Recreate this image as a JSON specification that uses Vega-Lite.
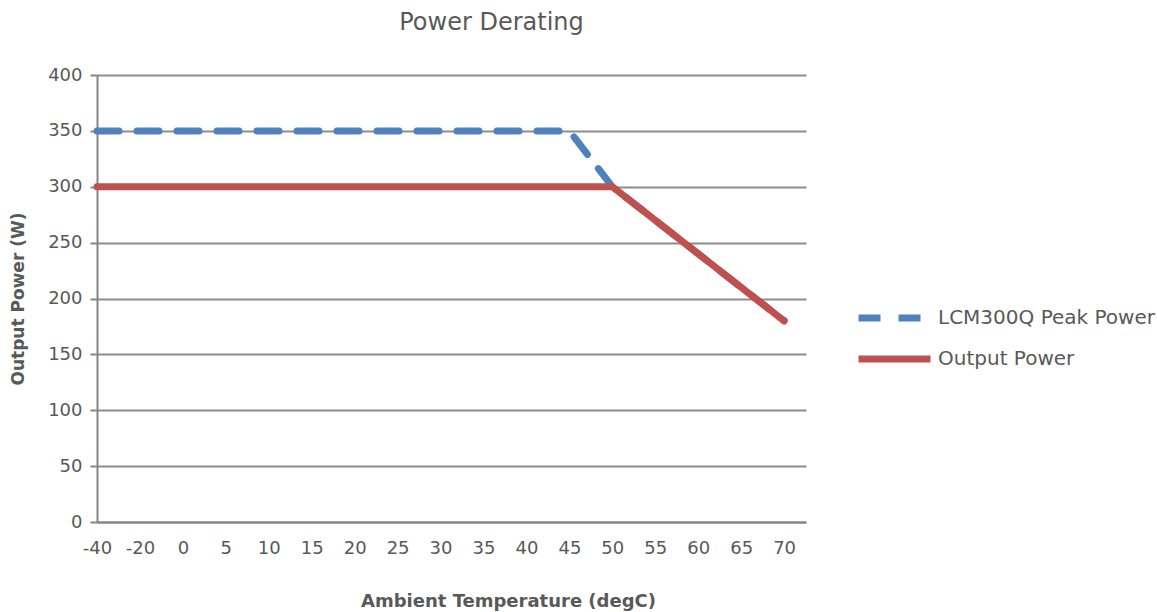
{
  "$schema": "https://vega.github.io/schema/vega-lite/v6.json",
  "width": 709,
  "height": 447,
  "autosize": {"type": "none"},
  "padding": {"left": 97, "top": 75, "right": 351, "bottom": 90},
  "background": "white",
  "config": {
    "view": {"stroke": null},
    "font": "DejaVu Sans",
    "axis": {"labelFont": "DejaVu Sans", "titleFont": "DejaVu Sans", "labelColor": "#595959", "titleColor": "#595959"}
  },
  "title": {
    "text": "Power Derating",
    "fontSize": 24,
    "fontWeight": "normal",
    "color": "#595959",
    "font": "DejaVu Sans",
    "anchor": "middle",
    "dx": 40,
    "offset": 31
  },
  "data": {
    "values": [
      {"i": 0, "t": "-40", "s": "LCM300Q Peak Power", "p": 350},
      {"i": 1, "t": "-20", "s": "LCM300Q Peak Power", "p": 350},
      {"i": 2, "t": "0", "s": "LCM300Q Peak Power", "p": 350},
      {"i": 3, "t": "5", "s": "LCM300Q Peak Power", "p": 350},
      {"i": 4, "t": "10", "s": "LCM300Q Peak Power", "p": 350},
      {"i": 5, "t": "15", "s": "LCM300Q Peak Power", "p": 350},
      {"i": 6, "t": "20", "s": "LCM300Q Peak Power", "p": 350},
      {"i": 7, "t": "25", "s": "LCM300Q Peak Power", "p": 350},
      {"i": 8, "t": "30", "s": "LCM300Q Peak Power", "p": 350},
      {"i": 9, "t": "35", "s": "LCM300Q Peak Power", "p": 350},
      {"i": 10, "t": "40", "s": "LCM300Q Peak Power", "p": 350},
      {"i": 11, "t": "45", "s": "LCM300Q Peak Power", "p": 350},
      {"i": 12, "t": "50", "s": "LCM300Q Peak Power", "p": 300},
      {"i": 13, "t": "55", "s": "LCM300Q Peak Power", "p": 270},
      {"i": 14, "t": "60", "s": "LCM300Q Peak Power", "p": 240},
      {"i": 15, "t": "65", "s": "LCM300Q Peak Power", "p": 210},
      {"i": 16, "t": "70", "s": "LCM300Q Peak Power", "p": 180},
      {"i": 0, "t": "-40", "s": "Output Power", "p": 300},
      {"i": 1, "t": "-20", "s": "Output Power", "p": 300},
      {"i": 2, "t": "0", "s": "Output Power", "p": 300},
      {"i": 3, "t": "5", "s": "Output Power", "p": 300},
      {"i": 4, "t": "10", "s": "Output Power", "p": 300},
      {"i": 5, "t": "15", "s": "Output Power", "p": 300},
      {"i": 6, "t": "20", "s": "Output Power", "p": 300},
      {"i": 7, "t": "25", "s": "Output Power", "p": 300},
      {"i": 8, "t": "30", "s": "Output Power", "p": 300},
      {"i": 9, "t": "35", "s": "Output Power", "p": 300},
      {"i": 10, "t": "40", "s": "Output Power", "p": 300},
      {"i": 11, "t": "45", "s": "Output Power", "p": 300},
      {"i": 12, "t": "50", "s": "Output Power", "p": 300},
      {"i": 13, "t": "55", "s": "Output Power", "p": 270},
      {"i": 14, "t": "60", "s": "Output Power", "p": 240},
      {"i": 15, "t": "65", "s": "Output Power", "p": 210},
      {"i": 16, "t": "70", "s": "Output Power", "p": 180}
    ]
  },
  "mark": {"type": "line", "strokeWidth": 7, "strokeCap": "round", "strokeJoin": "round"},
  "encoding": {
    "x": {
      "field": "i",
      "type": "quantitative",
      "scale": {"domain": [0, 16.51], "nice": false, "zero": false},
      "axis": {
        "values": [0,1,2,3,4,5,6,7,8,9,10,11,12,13,14,15,16],
        "labelExpr": "['-40','-20','0','5','10','15','20','25','30','35','40','45','50','55','60','65','70'][datum.value]",
        "title": "Ambient Temperature (degC)",
        "titleFontSize": 18,
        "titleFontWeight": "bold",
        "titlePadding": 35,
        "titleX": 411,
        "labelFontSize": 18,
        "labelPadding": 17,
        "ticks": false,
        "grid": false,
        "domainColor": "#868686",
        "domainWidth": 2,
        "labelFlush": false,
        "labelOverlap": false
      }
    },
    "y": {
      "field": "p",
      "type": "quantitative",
      "scale": {"domain": [0, 400], "nice": false},
      "axis": {
        "values": [0, 50, 100, 150, 200, 250, 300, 350, 400],
        "title": "Output Power (W)",
        "titleFontSize": 17,
        "titleFontWeight": "bold",
        "titlePadding": 20,
        "labelFontSize": 18,
        "labelPadding": 8,
        "tickSize": 7,
        "tickColor": "#868686",
        "tickWidth": 2,
        "domainColor": "#868686",
        "domainWidth": 2,
        "gridColor": "#8c8c8c",
        "gridWidth": 2
      }
    },
    "color": {
      "field": "s",
      "type": "nominal",
      "scale": {"domain": ["LCM300Q Peak Power", "Output Power"], "range": ["#4F81BD", "#C0504D"]},
      "legend": {
        "title": null,
        "orient": "none",
        "legendX": 758,
        "legendY": 229,
        "symbolType": "stroke",
        "symbolSize": 5184,
        "symbolStrokeWidth": 7,
        "labelFontSize": 20,
        "labelColor": "#595959",
        "labelFont": "DejaVu Sans",
        "labelOffset": 4,
        "clipHeight": 28,
        "rowPadding": 13,
        "labelLimit": 300
      }
    },
    "strokeDash": {
      "field": "s",
      "type": "nominal",
      "scale": {"domain": ["LCM300Q Peak Power", "Output Power"], "range": [[22, 18], [1, 0]]},
      "legend": null
    }
  }
}
